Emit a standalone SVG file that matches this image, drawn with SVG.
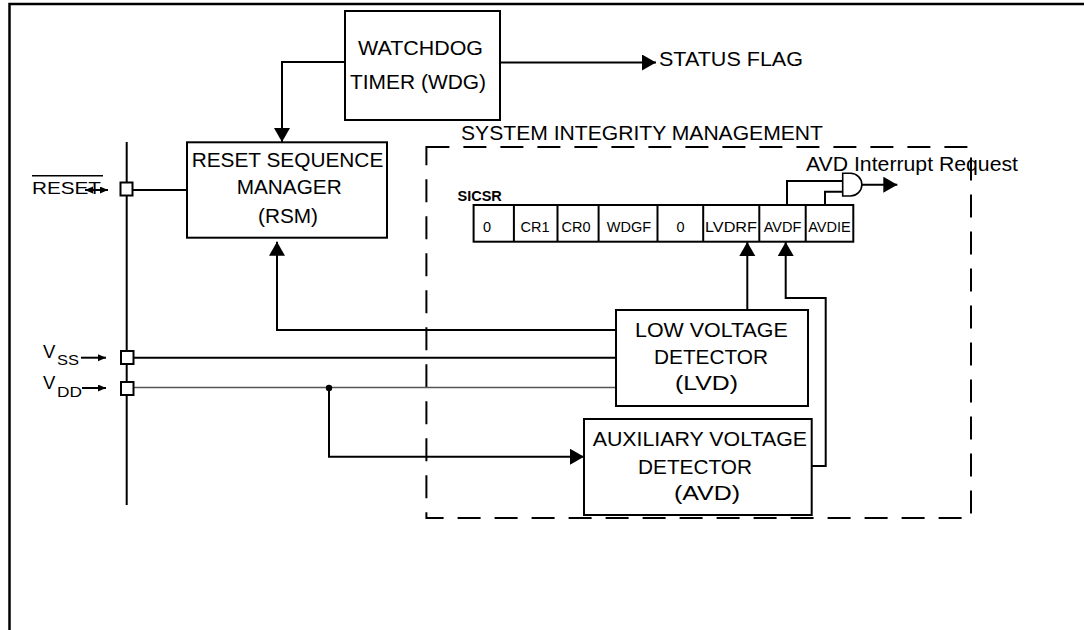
<svg xmlns="http://www.w3.org/2000/svg" width="1084" height="630" viewBox="0 0 1084 630">
<style>
.box{fill:#fff;stroke:#000;stroke-width:2}
.ln{fill:none;stroke:#000;stroke-width:2}
.t{font-family:"Liberation Sans",Arial,sans-serif;font-size:20px;fill:#000}
.c{font-family:"Liberation Sans",Arial,sans-serif;font-size:14.5px;fill:#000;text-anchor:middle}
.b{font-family:"Liberation Sans",Arial,sans-serif;font-size:14.5px;font-weight:bold;fill:#000}
</style>
<defs>
<marker id="arr" markerWidth="16" markerHeight="18" refX="14" refY="8" orient="auto" markerUnits="userSpaceOnUse"><path d="M0,0 L14,8 L0,16 z" fill="#000"/></marker>
<marker id="sm" markerWidth="9" markerHeight="8" refX="8" refY="3.5" orient="auto-start-reverse" markerUnits="userSpaceOnUse"><path d="M0,0 L8,3.5 L0,7 z" fill="#000"/></marker>
</defs>
<rect width="1084" height="630" fill="#fff"/>
<g id="frame"><path d="M9.5,630 V4 H1084" fill="none" stroke="#000" stroke-width="2.5"/></g>
<g id="sim-boundary">
<rect x="426.4" y="147" width="544.6" height="371" fill="none" stroke="#000" stroke-width="2" stroke-dasharray="23 14"/>
<text class="t" x="461" y="140" textLength="362" lengthAdjust="spacingAndGlyphs">SYSTEM INTEGRITY MANAGEMENT</text>
</g>
<g id="connectors">
<path class="ln" d="M126.7,142 V505"/>
<path class="ln" d="M345,62 H282 V142" marker-end="url(#arr)"/>
<path class="ln" d="M500,62.5 H656" marker-end="url(#arr)"/>
<path class="ln" d="M133,190 H187"/>
<path class="ln" d="M616,330 H277 V241.7" marker-end="url(#arr)"/>
<path class="ln" d="M134,357.7 H616"/>
<path d="M134,387.5 H616" fill="none" stroke="#555" stroke-width="1.4"/>
<circle cx="329" cy="388" r="3.2" fill="#000"/>
<path class="ln" d="M329,388 V456.7 H584" marker-end="url(#arr)"/>
<path class="ln" d="M747.3,310 V242" marker-end="url(#arr)"/>
<path class="ln" d="M811.7,466 H825.7 V298 H785.7 V242" marker-end="url(#arr)"/>
<path class="ln" d="M787,205 V181 H842.7"/>
<path class="ln" d="M825,205 V191.7 H842.7"/>
<path class="ln" d="M862,184.7 H897.3" marker-end="url(#arr)"/>
<path class="ln" d="M85,190 H108" stroke-width="1.5" marker-start="url(#sm)" marker-end="url(#sm)"/>
<path class="ln" d="M81,357.7 H106" stroke-width="1.5" marker-end="url(#sm)"/>
<path class="ln" d="M82,388 H106" stroke-width="1.5" marker-end="url(#sm)"/>
</g>
<g id="pin-reset">
<text class="t" x="32" y="194" style="font-size:16.5px" textLength="69" lengthAdjust="spacingAndGlyphs">RESET</text>
<path d="M32,175.7 H103" stroke="#000" stroke-width="1.5"/>
<rect class="box" x="120.5" y="182.5" width="12" height="13"/>
</g>
<g id="pin-vss">
<text class="t" x="43" y="358" style="font-size:18.5px">V</text>
<text class="t" x="57" y="365" style="font-size:15px" textLength="22" lengthAdjust="spacingAndGlyphs">SS</text>
<rect class="box" x="121" y="351" width="12.5" height="13"/>
</g>
<g id="pin-vdd">
<text class="t" x="43" y="389" style="font-size:18.5px">V</text>
<text class="t" x="57" y="396.7" style="font-size:15px" textLength="25" lengthAdjust="spacingAndGlyphs">DD</text>
<rect class="box" x="121" y="382" width="12.5" height="13"/>
</g>
<g id="wdg">
<rect class="box" x="345" y="11" width="155" height="109"/>
<text class="t" x="358" y="55" textLength="125" lengthAdjust="spacingAndGlyphs">WATCHDOG</text>
<text class="t" x="350" y="88.5" textLength="136" lengthAdjust="spacingAndGlyphs">TIMER (WDG)</text>
</g>
<g id="status-flag">
<text class="t" x="659" y="66" textLength="144" lengthAdjust="spacingAndGlyphs">STATUS FLAG</text>
</g>
<g id="rsm">
<rect class="box" x="187" y="142.3" width="200" height="95.4"/>
<text class="t" x="191.7" y="166.7" textLength="191.6" lengthAdjust="spacingAndGlyphs">RESET SEQUENCE</text>
<text class="t" x="236.7" y="194" textLength="105" lengthAdjust="spacingAndGlyphs">MANAGER</text>
<text class="t" x="258" y="223" textLength="60" lengthAdjust="spacingAndGlyphs">(RSM)</text>
</g>
<g id="sicsr">
<text class="b" x="457.5" y="200.5">SICSR</text>
<rect class="box" x="473.6" y="205" width="379.7" height="36.7"/>
<path class="ln" d="M513.9,205 V241.7 M557.5,205 V241.7 M598.6,205 V241.7 M657.5,205 V241.7 M703.2,205 V241.7 M759.3,205 V241.7 M805.7,205 V241.7"/>
<text class="c" x="487" y="231.7">0</text>
<text class="c" x="535" y="231.7">CR1</text>
<text class="c" x="576" y="231.7">CR0</text>
<text class="c" x="629" y="231.7">WDGF</text>
<text class="c" x="680.5" y="231.7">0</text>
<text class="c" x="731" y="231.7" textLength="52" lengthAdjust="spacingAndGlyphs">LVDRF</text>
<text class="c" x="782.5" y="231.7">AVDF</text>
<text class="c" x="829.5" y="231.7">AVDIE</text>
</g>
<g id="and-gate">
<path d="M842.7,173.3 H850.5 A11.35,11.35 0 0 1 850.5,196 H842.7 Z" fill="#fff" stroke="#000" stroke-width="1.6"/>
<text class="t" x="806" y="170.7" textLength="212" lengthAdjust="spacingAndGlyphs">AVD Interrupt Request</text>
</g>
<g id="lvd">
<rect class="box" x="616" y="310" width="192" height="96"/>
<text class="t" x="635" y="336.7" textLength="152.7" lengthAdjust="spacingAndGlyphs">LOW VOLTAGE</text>
<text class="t" x="654" y="364.3" textLength="114" lengthAdjust="spacingAndGlyphs">DETECTOR</text>
<text class="t" x="675" y="390" textLength="63" lengthAdjust="spacingAndGlyphs">(LVD)</text>
</g>
<g id="avd">
<rect class="box" x="584" y="419" width="227.7" height="96"/>
<text class="t" x="592.7" y="445.7" textLength="214.3" lengthAdjust="spacingAndGlyphs">AUXILIARY VOLTAGE</text>
<text class="t" x="638" y="474" textLength="114" lengthAdjust="spacingAndGlyphs">DETECTOR</text>
<text class="t" x="674" y="500" textLength="66" lengthAdjust="spacingAndGlyphs">(AVD)</text>
</g>
</svg>
